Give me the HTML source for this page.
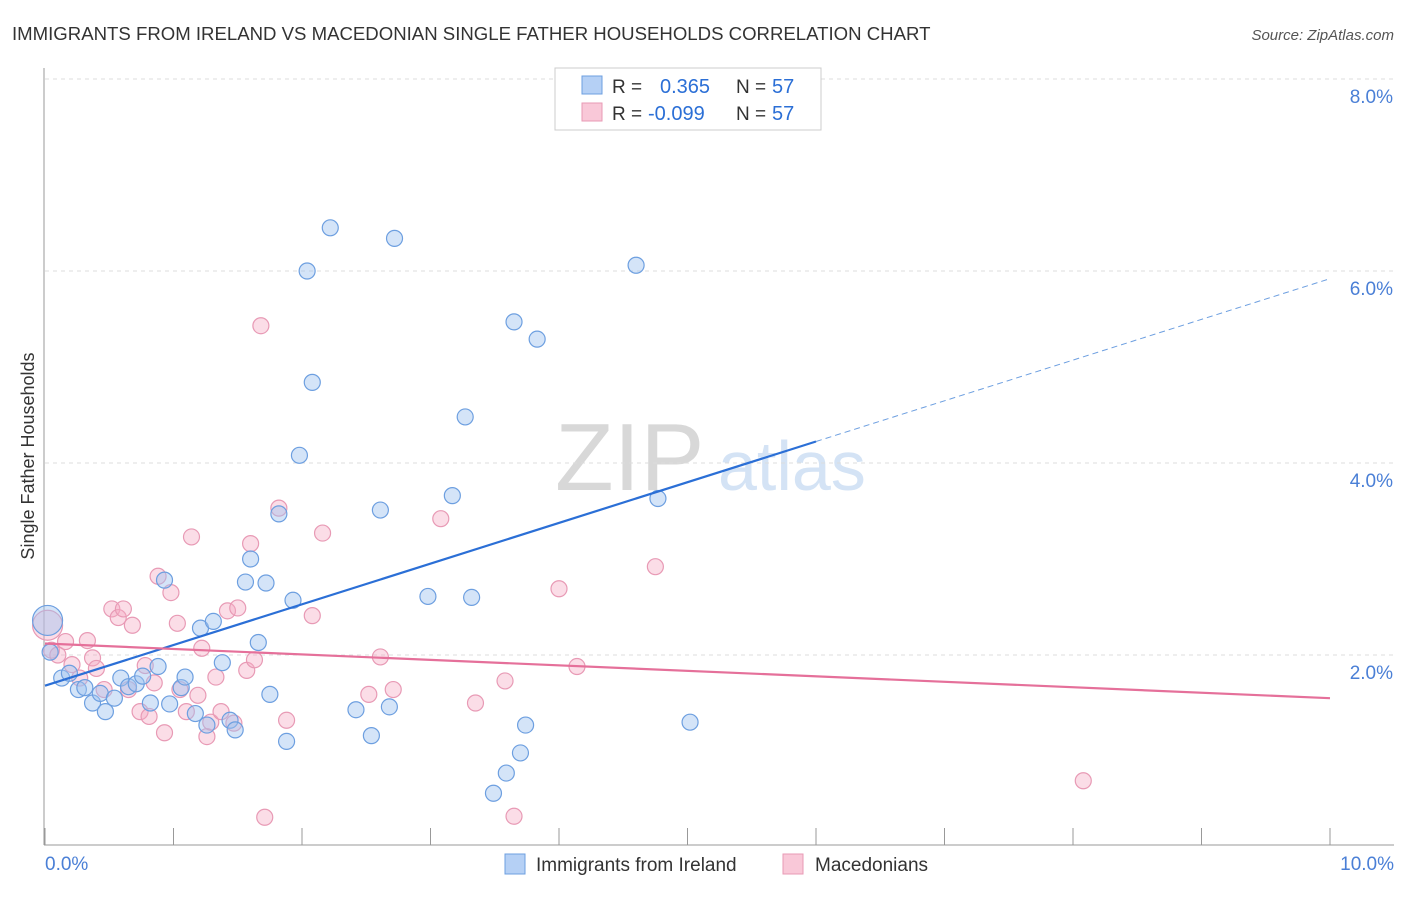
<!DOCTYPE html>
<html><head><meta charset="utf-8"><style>
body{margin:0;background:#fff;font-family:"Liberation Sans",sans-serif}
svg text{font-family:"Liberation Sans",sans-serif}
</style></head><body>
<svg id="c" width="1406" height="892">
<text x="12" y="40" font-size="18.6" fill="#333">IMMIGRANTS FROM IRELAND VS MACEDONIAN SINGLE FATHER HOUSEHOLDS CORRELATION CHART</text>
<text x="1394" y="40" font-size="15" fill="#555" text-anchor="end" font-style="italic">Source: ZipAtlas.com</text>
<text x="555" y="490" font-size="96" fill="#d8d8d8" font-family="Liberation Serif">ZIP</text>
<text x="718" y="490" font-size="70" fill="#d4e3f5">atlas</text>
<g id="grid"></g><g id="marks"></g>
<text transform="translate(34,456) rotate(-90)" font-size="18" fill="#333" text-anchor="middle">Single Father Households</text>
<g>
<rect x="555" y="68" width="266" height="62" fill="#fff" stroke="#ccc"/>
<rect x="582" y="76" width="20" height="18" fill="#b5d0f5" stroke="#6d9fe0"/>
<rect x="582" y="103" width="20" height="18" fill="#f9c8d8" stroke="#e89ab5"/>
<text x="612" y="93" font-size="19" fill="#333">R =</text>
<text x="660" y="93" font-size="20" fill="#2b6fd6">0.365</text>
<text x="736" y="93" font-size="19" fill="#333">N =</text>
<text x="772" y="93" font-size="20" fill="#2b6fd6">57</text>
<text x="612" y="120" font-size="19" fill="#333">R =</text>
<text x="648" y="120" font-size="20" fill="#2b6fd6">-0.099</text>
<text x="736" y="120" font-size="19" fill="#333">N =</text>
<text x="772" y="120" font-size="20" fill="#2b6fd6">57</text>
</g>
<g>
<rect x="505" y="854" width="20" height="20" fill="#b5d0f5" stroke="#6d9fe0"/>
<text x="536" y="871" font-size="19" fill="#333">Immigrants from Ireland</text>
<rect x="783" y="854" width="20" height="20" fill="#f9c8d8" stroke="#e89ab5"/>
<text x="815" y="871" font-size="19" fill="#333">Macedonians</text>
</g>
</svg>
<script>
const blueX=[0.02,0.04,0.13,0.19,0.26,0.31,0.37,0.43,0.47,0.54,0.59,0.65,0.71,0.76,0.82,0.88,0.93,0.97,1.06,1.09,1.17,1.21,1.26,1.31,1.38,1.44,1.48,1.56,1.60,1.66,1.72,1.75,1.82,1.88,1.93,1.98,2.04,2.08,2.22,2.42,2.54,2.61,2.68,2.72,2.98,3.17,3.27,3.32,3.49,3.59,3.65,3.70,3.74,3.83,4.60,4.77,5.02];
const blueY=[2.36,2.03,1.76,1.81,1.64,1.66,1.50,1.60,1.41,1.55,1.76,1.67,1.70,1.78,1.50,1.88,2.78,1.49,1.66,1.77,1.39,2.28,1.27,2.35,1.92,1.32,1.22,2.76,3.00,2.13,2.75,1.59,3.47,1.10,2.57,4.08,6.00,4.84,6.45,1.43,1.16,3.51,1.46,6.34,2.61,3.66,4.48,2.60,0.56,0.77,5.47,0.98,1.27,5.29,6.06,3.63,1.30];
const pinkX=[0.02,0.05,0.10,0.16,0.21,0.27,0.33,0.37,0.40,0.46,0.52,0.57,0.61,0.65,0.68,0.74,0.78,0.81,0.85,0.88,0.93,0.98,1.03,1.05,1.10,1.14,1.19,1.22,1.26,1.29,1.33,1.37,1.42,1.47,1.50,1.57,1.60,1.63,1.68,1.71,1.82,1.88,2.08,2.16,2.52,2.61,2.71,3.08,3.35,3.58,3.65,4.00,4.14,4.75,8.08];
const pinkY=[2.31,2.05,2.00,2.14,1.90,1.76,2.15,1.97,1.86,1.64,2.48,2.39,2.48,1.64,2.31,1.41,1.89,1.36,1.71,2.82,1.19,2.65,2.33,1.64,1.41,3.23,1.58,2.07,1.15,1.30,1.77,1.41,2.46,1.29,2.49,1.84,3.16,1.95,5.43,0.31,3.53,1.32,2.41,3.27,1.59,1.98,1.64,3.42,1.50,1.73,0.32,2.69,1.88,2.92,0.69];
const yTicks=[2,4,6,8];
const xTicks=[0,1,2,3,4,5,6,7,8,9,10];
const blueLine=[0,1.68,10,5.92];
const pinkLine=[0,2.12,10,1.55];
const X=v=>45+v*128.5, Y=v=>847-v*96;
const NS="http://www.w3.org/2000/svg";
function mk(p,t,a){const e=document.createElementNS(NS,t);for(const k in a)e.setAttribute(k,a[k]);p.appendChild(e);return e;}
const g=document.getElementById('grid'), m=document.getElementById('marks');
yTicks.forEach(t=>{const l=mk(g,'line',{x1:45,x2:1394,y1:Y(t),y2:Y(t),stroke:'#ddd','stroke-dasharray':'4,4'});

const tx=mk(g,'text',{x:1393,y:Y(t)+24,'font-size':19,fill:'#4a7fd6','text-anchor':'end'});tx.textContent=t.toFixed(1)+'%';
});
const ax=mk(g,'line',{x1:44,x2:44,y1:68,y2:845,stroke:'#999'});
const bx=mk(g,'line',{x1:44,x2:1394,y1:845,y2:845,stroke:'#999'});
xTicks.forEach(t=>{const l=mk(g,'line',{x1:X(t),x2:X(t),y1:828,y2:845,stroke:'#999'});});
[[0,'start','0.0%',45],[10,'end','10.0%',1394]].forEach(a=>{const tx=mk(g,'text',{x:a[3],y:870,'font-size':19,fill:'#4a7fd6','text-anchor':a[1]});tx.textContent=a[2];});
function dots(xs,ys,fill,stroke,name){xs.forEach((x,i)=>{const c=mk(m,'circle',{cx:X(x),cy:Y(ys[i]),r:i===0?15:8,fill:fill,stroke:stroke,'stroke-width':1.2});
});}
dots(pinkX,pinkY,'rgba(245,170,195,0.4)','#e89ab5','macedonians-point');
dots(blueX,blueY,'rgba(160,195,240,0.45)','#6d9fe0','ireland-point');
const sl=blueLine[1], el=blueLine[3], f=v=>sl+(el-sl)*v/10;
const b1=mk(m,'line',{x1:X(0),y1:Y(f(0)),x2:X(6),y2:Y(f(6)),stroke:'#2b6fd6','stroke-width':2.2});
const b2=mk(m,'line',{x1:X(6),y1:Y(f(6)),x2:X(10),y2:Y(f(10)),stroke:'#6d9fe0','stroke-width':1,'stroke-dasharray':'6,4'});
const p1=mk(m,'line',{x1:X(pinkLine[0]),y1:Y(pinkLine[1]),x2:X(pinkLine[2]),y2:Y(pinkLine[3]),stroke:'#e5709a','stroke-width':2.2});
</script>
</body></html>
